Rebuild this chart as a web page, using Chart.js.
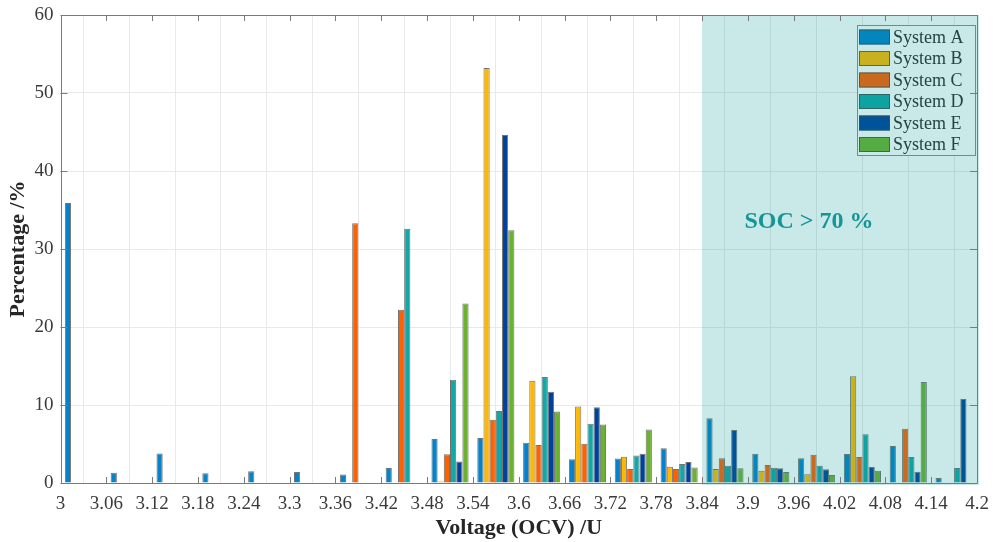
<!DOCTYPE html>
<html>
<head>
<meta charset="utf-8">
<script src="https://cdn.jsdelivr.net/npm/chart.js@4.4.0/dist/chart.umd.min.js"></script>
<style>
  html, body { margin: 0; padding: 0; background: #fff; }
  canvas { display: block; }
</style>
</head>
<body>
<canvas id="ocvChart" width="994" height="542"></canvas>
<script>
// OCV histogram bins (bin centres, V) and axis ticks
const voltageBins = [3.03, 3.09, 3.15, 3.21, 3.27, 3.33, 3.39, 3.45, 3.51, 3.57,
                     3.63, 3.69, 3.75, 3.81, 3.87, 3.93, 3.99, 4.05, 4.11, 4.17];
const xTicks = [3, 3.06, 3.12, 3.18, 3.24, 3.3, 3.36, 3.42, 3.48, 3.54, 3.6,
                3.66, 3.72, 3.78, 3.84, 3.9, 3.96, 4.02, 4.08, 4.14, 4.2];
const yTicks = [0, 10, 20, 30, 40, 50, 60];

// Share of time spent in each voltage bin, %
const systemA = [35.9, 1.33, 3.77, 1.24, 1.5, 1.41, 1.1, 1.92, 5.64, 5.77,
                 5.17, 3.03, 3.15, 4.44, 8.29, 3.76, 3.17, 3.72, 4.74, 0.64];
const systemB = [0, 0, 0, 0, 0, 0, 0, 0, 0.2, 53.2,
                 13.1, 9.82, 3.37, 2.09, 1.79, 1.58, 1.11, 13.68, 0, 0];
const systemC = [0, 0, 0, 0, 0, 0, 33.3, 22.2, 3.67, 8.12,
                 4.87, 5.04, 1.79, 1.8, 3.17, 2.31, 3.63, 3.33, 6.96, 0];
const systemD = [0, 0, 0, 0, 0, 0, 0, 32.6, 13.24, 9.23,
                 13.6, 7.6, 3.54, 2.44, 2.22, 1.96, 2.22, 6.24, 3.33, 1.92];
const systemE = [0, 0, 0, 0, 0, 0, 0, 0, 2.77, 44.6,
                 11.7, 9.7, 3.76, 2.69, 6.8, 1.88, 1.75, 2.05, 1.45, 10.77];
const systemF = [0, 0, 0, 0, 0, 0, 0, 0, 23.0, 32.4,
                 9.18, 7.5, 6.87, 2.0, 1.88, 1.41, 1.03, 1.58, 12.95, 0];

const seriesNames = ['System A', 'System B', 'System C', 'System D', 'System E', 'System F'];
const seriesValues = [systemA, systemB, systemC, systemD, systemE, systemF];
const seriesColors = ['#0582c9', '#ffb800', '#ff6000', '#12a8a8', '#00429a', '#6bb32e'];

// high-SOC voltage window
const socFrom = 3.84;
const socTo = 4.2;
const socLabel = 'SOC > 70 %';

const SERIF = '"Liberation Serif", "Times New Roman", serif';

const datasets = seriesNames.map((name, i) => ({
    label: name,
    data: voltageBins.map((v, k) => ({ x: v, y: seriesValues[i][k] || null })),
    backgroundColor: seriesColors[i],
    borderColor: 'rgba(70,70,70,0.75)',
    borderWidth: 1,
    barPercentage: 1.0,
    categoryPercentage: 0.81
}));

function drawLegend(ctx, area) {
    const boxRight = area.right - 1;
    const boxW = 119;
    const boxLeft = boxRight - boxW;
    const boxTop = area.top + 10;
    const rowH = 21.5;
    const boxH = rowH * seriesNames.length + 2;

    ctx.save();
    ctx.fillStyle = '#ffffff';
    ctx.fillRect(boxLeft, boxTop, boxW, boxH);
    ctx.strokeStyle = '#8c8c8c';
    ctx.lineWidth = 1;
    ctx.strokeRect(boxLeft + 0.5, boxTop + 0.5, boxW - 1, boxH - 1);

    ctx.font = '18px ' + SERIF;
    ctx.textBaseline = 'middle';
    ctx.textAlign = 'left';
    seriesNames.forEach((name, i) => {
        const cy = boxTop + 12 + i * rowH;
        ctx.fillStyle = seriesColors[i];
        ctx.fillRect(boxLeft + 2, cy - 7.5, 31, 15);
        ctx.strokeStyle = 'rgba(70,70,70,0.8)';
        ctx.strokeRect(boxLeft + 2.5, cy - 7, 30, 14);
        ctx.fillStyle = '#2e2e2e';
        ctx.fillText(name, boxLeft + 36, cy + 1);
    });
    ctx.restore();
}

// legend, translucent SOC window over the bars, then its label
const socShade = {
    id: 'socShade',
    afterDatasetsDraw(chart) {
        const { ctx, chartArea, scales: { x, y } } = chart;
        drawLegend(ctx, chartArea);

        const left = x.getPixelForValue(socFrom);
        const right = x.getPixelForValue(socTo) + 2;
        const top = chartArea.top;
        const bottom = y.getPixelForValue(0) + 2;
        ctx.save();
        ctx.fillStyle = 'rgba(0,145,145,0.21)';
        ctx.fillRect(left, top, right - left, bottom - top);

        ctx.font = 'bold 24px ' + SERIF;
        ctx.fillStyle = '#149696';
        ctx.textAlign = 'center';
        ctx.textBaseline = 'alphabetic';
        ctx.fillText(socLabel, x.getPixelForValue(3.98), y.getPixelForValue(32.7));
        ctx.restore();
    }
};

// MATLAB-style box with inward tick marks on all four sides
const axesBox = {
    id: 'axesBox',
    afterDraw(chart) {
        const { ctx, chartArea: a, scales: { x, y } } = chart;
        const tick = 6;
        ctx.save();
        ctx.strokeStyle = '#7a7a7a';
        ctx.lineWidth = 1;
        ctx.beginPath();
        ctx.rect(Math.round(a.left) + 0.5, Math.round(a.top) + 0.5,
                 Math.round(a.right - a.left) - 1, Math.round(a.bottom - a.top));
        xTicks.forEach(v => {
            const px = Math.round(x.getPixelForValue(v)) + 0.5;
            ctx.moveTo(px, a.bottom); ctx.lineTo(px, a.bottom - tick);
            ctx.moveTo(px, a.top); ctx.lineTo(px, a.top + tick);
        });
        yTicks.forEach(v => {
            const py = Math.round(y.getPixelForValue(v)) + 0.5;
            ctx.moveTo(a.left, py); ctx.lineTo(a.left + tick + 1, py);
            ctx.moveTo(a.right, py); ctx.lineTo(a.right - tick - 1, py);
        });
        ctx.stroke();
        ctx.restore();
    }
};

// fixed axis sizes so the plot box lands where the layout wants it
function fixX(scale) {
    scale.height = 59;
    scale.paddingLeft = 0;
    scale.paddingRight = 0;
}
function fixY(scale) {
    scale.width = 60.5;
    scale.paddingTop = 0;
    scale.paddingBottom = 0;
}

new Chart(document.getElementById('ocvChart'), {
    type: 'bar',
    data: { datasets },
    options: {
        responsive: false,
        animation: false,
        layout: { padding: { left: 0, right: 17, top: 15, bottom: 0 } },
        plugins: {
            legend: { display: false },
            tooltip: { enabled: false }
        },
        scales: {
            x: {
                type: 'linear',
                min: 3,
                max: 4.2,
                offset: false,
                afterBuildTicks: scale => { scale.ticks = xTicks.map(v => ({ value: v })); },
                afterFit: fixX,
                ticks: {
                    autoSkip: false,
                    maxRotation: 0,
                    padding: 10,
                    color: '#3a3a3a',
                    font: { family: SERIF, size: 19 },
                    callback: v => String(+Number(v).toFixed(2))
                },
                grid: { color: '#e9e9e9', drawTicks: false },
                border: { display: false },
                title: {
                    display: true,
                    text: 'Voltage (OCV) /U',
                    color: '#262626',
                    font: { family: SERIF, size: 22, weight: 'bold' },
                    padding: { top: 0, bottom: 0 }
                }
            },
            y: {
                min: 0,
                max: 60,
                afterBuildTicks: scale => { scale.ticks = yTicks.map(v => ({ value: v })); },
                afterFit: fixY,
                ticks: {
                    padding: 7,
                    color: '#3a3a3a',
                    font: { family: SERIF, size: 19 }
                },
                grid: { color: '#e9e9e9', drawTicks: false },
                border: { display: false },
                title: {
                    display: true,
                    text: 'Percentage /%',
                    color: '#262626',
                    font: { family: SERIF, size: 22, weight: 'bold' },
                    padding: { top: 5, bottom: 0 }
                }
            }
        }
    },
    plugins: [socShade, axesBox]
});
</script>
</body>
</html>
